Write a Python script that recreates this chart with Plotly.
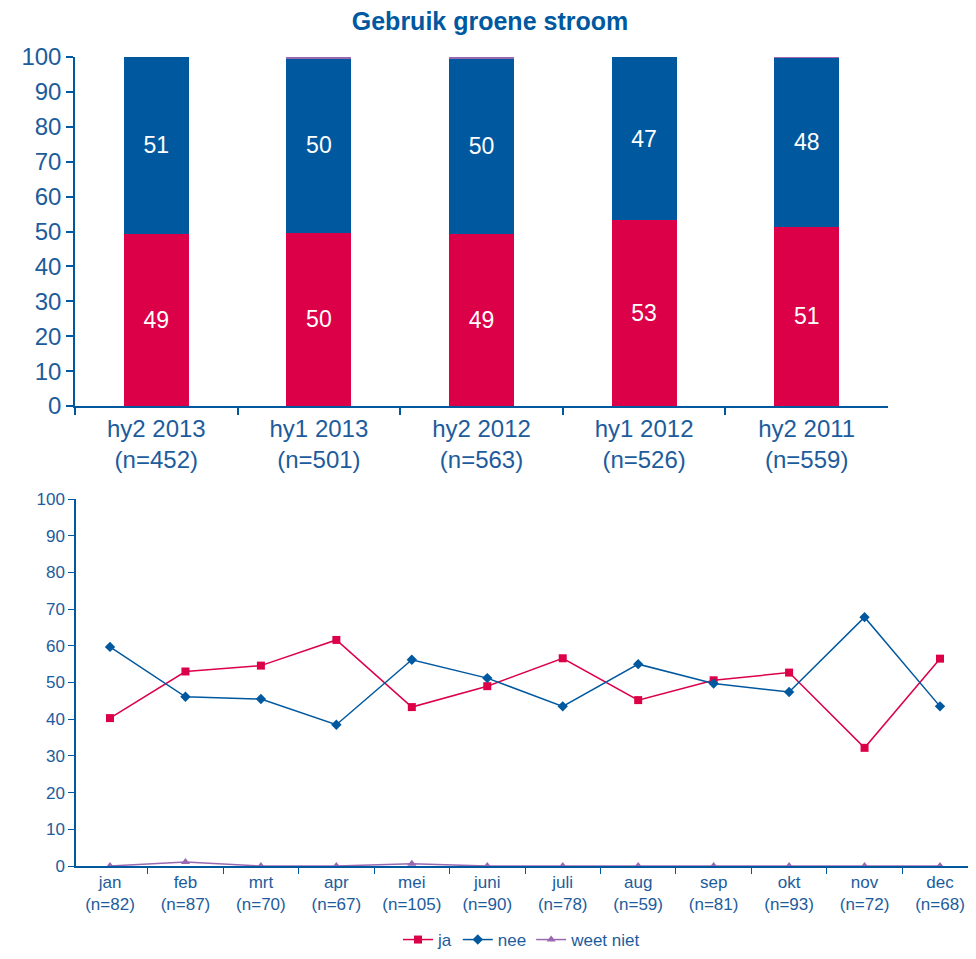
import plotly.graph_objects as go

# ---- top chart data ----
periods = ["hy2 2013<br>(n=452)", "hy1 2013<br>(n=501)", "hy2 2012<br>(n=563)",
           "hy1 2012<br>(n=526)", "hy2 2011<br>(n=559)"]
bar_ja = [49.3, 49.7, 49.4, 53.2, 51.4]
bar_nee = [50.7, 50.0, 50.2, 46.8, 48.4]
bar_weet = [0.0, 0.3, 0.4, 0.0, 0.2]

# ---- bottom chart data ----
months = ["jan<br>(n=82)", "feb<br>(n=87)", "mrt<br>(n=70)", "apr<br>(n=67)",
          "mei<br>(n=105)", "juni<br>(n=90)", "juli<br>(n=78)", "aug<br>(n=59)",
          "sep<br>(n=81)", "okt<br>(n=93)", "nov<br>(n=72)", "dec<br>(n=68)"]
line_ja = [40.3, 53.0, 54.6, 61.6, 43.3, 49.0, 56.6, 45.2, 50.6, 52.7, 32.2, 56.5]
line_nee = [59.7, 46.1, 45.5, 38.5, 56.2, 51.2, 43.5, 55.0, 49.7, 47.4, 67.8, 43.5]
line_weet = [0.0, 1.1, 0.0, 0.0, 0.6, 0.0, 0.0, 0.0, 0.0, 0.0, 0.0, 0.0]

RED = "#dc0048"
BLUE = "#00589f"
PURPLE = "#9a68b0"
TXT = "#1d5c9c"
FONT = "Liberation Sans, Arial, sans-serif"

OFF = 8          # default page body margin
W, H = 960, 943  # figure size so that page = 976 x 959

fig = go.Figure()

fig.add_trace(go.Bar(x=periods, y=bar_ja, marker_color=RED, name="ja", showlegend=False,
                     text=[f"{v:.0f}" for v in bar_ja], textposition="inside",
                     insidetextanchor="middle", textfont=dict(color="white", size=23, family=FONT),
                     xaxis="x", yaxis="y", hoverinfo="skip", marker_line_width=0))
fig.add_trace(go.Bar(x=periods, y=bar_nee, marker_color=BLUE, name="nee", showlegend=False,
                     text=[f"{v:.0f}" for v in bar_nee], textposition="inside",
                     insidetextanchor="middle", textfont=dict(color="white", size=23, family=FONT),
                     xaxis="x", yaxis="y", hoverinfo="skip", marker_line_width=0))
fig.add_trace(go.Bar(x=periods, y=bar_weet, marker_color=PURPLE, name="weet niet", showlegend=False,
                     textposition="none", xaxis="x", yaxis="y", hoverinfo="skip",
                     marker_line_width=0))

fig.add_trace(go.Scatter(x=months, y=line_ja, mode="lines+markers", name="ja",
                         line=dict(color=RED, width=1.5),
                         marker=dict(symbol="square", size=8, color=RED),
                         xaxis="x2", yaxis="y2"))
fig.add_trace(go.Scatter(x=months, y=line_nee, mode="lines+markers", name="nee",
                         line=dict(color=BLUE, width=1.5),
                         marker=dict(symbol="diamond", size=8, color=BLUE),
                         xaxis="x2", yaxis="y2"))
fig.add_trace(go.Scatter(x=months, y=line_weet, mode="lines+markers", name="weet niet",
                         line=dict(color=PURPLE, width=1.5),
                         marker=dict(symbol="triangle-up", size=8, color=PURPLE),
                         xaxis="x2", yaxis="y2"))

def fx(px):
    return (px - OFF) / W

def fy(py):
    return (H - (py - OFF)) / H

# bottom category axis: jan centred near x=110, dec near x=940 (page pixels)
unit = (940 - 110) / 11
x2_start = -0.5 + (76 - (110 - 0.5 * unit)) / unit
x2_end = 11 + (968 - 940) / unit

fig.update_layout(
    width=W, height=H,
    margin=dict(l=0, r=0, t=0, b=0, autoexpand=False),
    paper_bgcolor="white", plot_bgcolor="white",
    barmode="stack", bargap=0.6,
    font=dict(family=FONT, color=TXT),
    title=dict(text="<b>Gebruik groene stroom</b>", x=fx(490), xanchor="center",
               y=fy(21), yanchor="middle",
               font=dict(size=25, color=BLUE, family=FONT)),
    xaxis=dict(domain=[fx(75), fx(888)], anchor="y", showline=True, linecolor=BLUE,
               linewidth=1.5, ticks="outside", tickson="boundaries", ticklen=7,
               tickcolor=BLUE, tickwidth=1.5,
               tickfont=dict(size=24, color=TXT), showgrid=False),
    yaxis=dict(domain=[fy(406), fy(57)], anchor="x", range=[0, 100], dtick=10,
               showline=True, linecolor=BLUE, linewidth=1.5, ticks="outside",
               ticklen=7, tickcolor=BLUE, tickwidth=1.5,
               tickfont=dict(size=24, color=TXT), showgrid=False, zeroline=False),
    xaxis2=dict(domain=[fx(76), 1.0], anchor="y2", range=[x2_start, x2_end],
                showline=True, linecolor=BLUE, linewidth=1.5, ticks="outside",
                tickson="boundaries", ticklen=6, tickcolor=BLUE, tickwidth=1,
                tickfont=dict(size=17, color=TXT, family=FONT), showgrid=False),
    yaxis2=dict(domain=[fy(866), fy(499)], anchor="x2", range=[0, 100], dtick=10,
                showline=True, linecolor=BLUE, linewidth=1.5, ticks="outside",
                ticklen=6, tickcolor=BLUE, tickwidth=1,
                tickfont=dict(size=17, color=TXT), showgrid=False, zeroline=False),
    legend=dict(orientation="h", x=fx(522), xanchor="center", y=fy(940), yanchor="middle",
                font=dict(size=17, color=TXT, family=FONT), itemwidth=30,
                tracegroupgap=0, traceorder="normal"),
)

fig.write_html("out.html")
